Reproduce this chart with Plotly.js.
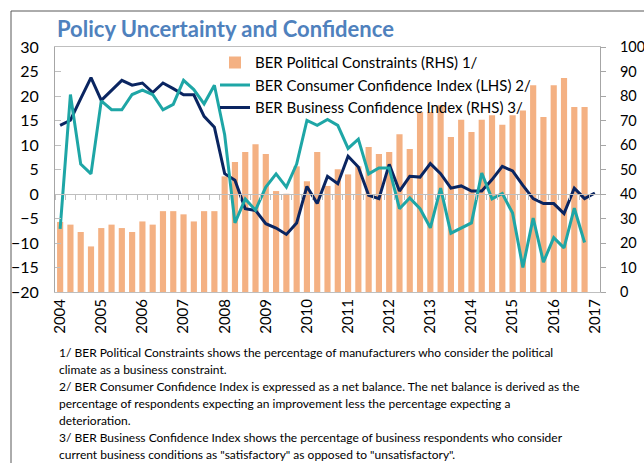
<!DOCTYPE html>
<html>
<head>
<meta charset="utf-8">
<script src="https://cdn.plot.ly/plotly-3.0.1.min.js"></script>
<style>html,body{margin:0;padding:0;background:#fff;}#chart{width:644px;height:463px;}</style>
</head>
<body>
<div id="chart"></div>
<script>
const quarters = ['2004Q1','2004Q2','2004Q3','2004Q4','2005Q1','2005Q2','2005Q3','2005Q4',
  '2006Q1','2006Q2','2006Q3','2006Q4','2007Q1','2007Q2','2007Q3','2007Q4',
  '2008Q1','2008Q2','2008Q3','2008Q4','2009Q1','2009Q2','2009Q3','2009Q4',
  '2010Q1','2010Q2','2010Q3','2010Q4','2011Q1','2011Q2','2011Q3','2011Q4',
  '2012Q1','2012Q2','2012Q3','2012Q4','2013Q1','2013Q2','2013Q3','2013Q4',
  '2014Q1','2014Q2','2014Q3','2014Q4','2015Q1','2015Q2','2015Q3','2015Q4',
  '2016Q1','2016Q2','2016Q3','2016Q4','2017Q1'];
const yearTickQuarters = ['2004Q1','2005Q1','2006Q1','2007Q1','2008Q1','2009Q1','2010Q1','2011Q1','2012Q1','2013Q1','2014Q1','2015Q1','2016Q1','2017Q1'];
const yearLabels = ['2004','2005','2006','2007','2008','2009','2010','2011','2012','2013','2014','2015','2016','2017'];

const politicalConstraints = [28.6,27.5,24.5,18.6,26.1,27.5,26.1,24.5,28.8,27.5,
  33,33,31.7,28.8,33,33,47.2,53.1,57.1,60.3,
  56.3,41.2,40.1,51.3,45.2,57.1,43.3,50.1,48.0,51.3,
  59.2,56.3,57.1,64.4,58.4,73.5,73.5,76.2,63.3,70.3,
  65.3,70.3,72.1,68.3,72.1,74.1,84.4,71.4,84.4,87.3,75.5,75.5];
const consumerConfidence = [-7.1,20.3,6.1,4.1,19.0,17.2,17.2,20.3,21.2,20.3,
  17.2,18.3,23.2,21.3,18.4,22.2,12.1,-5.9,-1.0,-3.3,
  1.4,4.1,1.4,6.1,15.0,14.0,15.2,14.0,9.3,11.2,
  4.1,5.3,5.3,-3.0,-0.8,-3.0,-6.9,1.2,-8.0,-6.9,
  -5.9,4.3,-1.0,0.1,-3.9,-15.0,-4.9,-13.9,-8.9,-11.0,-2.9,-9.9];
const businessConfidence = [68.0,70.1,78.9,87.5,78.2,82.3,86.4,84.4,85.3,81.4,
  85.3,83.0,80.5,80.5,71.7,67.3,48.3,45.6,34.0,33.3,
  27.9,26.1,23.5,28.2,43.1,36.1,47.2,44.2,55.4,51.0,
  39.5,38.1,52.1,41.2,47.2,46.9,52.4,48.3,42.4,43.3,
  41.2,41.2,45.9,51.3,49.4,43.5,38.1,36.1,36.1,32.0,42.4,38.1,40.4];

const seriesNames = ['BER Political Constraints (RHS) 1/','BER Consumer Confidence Index (LHS) 2/','BER Business Confidence Index (RHS) 3/'];
const leftTicks = [-20,-15,-10,-5,0,5,10,15,20,25,30];
const rightTicks = [0,10,20,30,40,50,60,70,80,90,100];
const footnotes = [
  '1/ BER Political Constraints shows the percentage of manufacturers who consider the political',
  'climate as a business constraint.',
  '2/ BER Consumer Confidence Index is expressed as a net balance. The net balance is derived as the',
  'percentage of respondents expecting an improvement less the percentage expecting a',
  'deterioration.',
  '3/ BER Business Confidence Index shows the percentage of business respondents who consider',
  'current business conditions as "satisfactory" as opposed to "unsatisfactory".'
];

const FONT = 'Lato, "Open Sans", sans-serif';
const W = 644, H = 463;
const PL = 55, PR = 600, PT = 46.7, PB = 291.7;
const px2x = p => (p - PL) / (PR - PL);
const py2y = p => (PB - p) / (PB - PT);

const traces = [
  {type:'bar', name: seriesNames[0], x: quarters.slice(0, politicalConstraints.length), y: politicalConstraints,
   xaxis:'x', yaxis:'y', marker:{color:'#f4b183'}},
  {type:'scatter', mode:'lines', name: seriesNames[1], x: quarters.slice(0, consumerConfidence.length), y: consumerConfidence,
   xaxis:'x2', yaxis:'y2', line:{color:'#1ea6a6', width:3}},
  {type:'scatter', mode:'lines', name: seriesNames[2], x: quarters, y: businessConfidence,
   xaxis:'x', yaxis:'y3', line:{color:'#0a2561', width:3}}
];

const annotations = footnotes.map((t, k) => ({
  text: t, xref:'paper', yref:'paper', x: px2x(57), y: py2y(352.5 + k*17),
  xanchor:'left', yanchor:'middle', showarrow:false, align:'left',
  font:{family:FONT, size:12, color:'#000'}
}));

const shapes = [
  {type:'line', xref:'paper', yref:'paper', x0:px2x(11), x1:px2x(11), y0:py2y(10.7), y1:py2y(470), line:{color:'#595959', width:1}},
  {type:'line', xref:'paper', yref:'paper', x0:px2x(11), x1:px2x(660), y0:py2y(10.7), y1:py2y(10.7), line:{color:'#595959', width:1}}
];

const layout = {
  width: W, height: H,
  margin: {l: PL, r: W - PR, t: PT, b: H - PB, pad: 0},
  paper_bgcolor: '#fff', plot_bgcolor: '#fff',
  showlegend: true,
  title: {text: '<b>Policy Uncertainty and Confidence</b>', x: 57/W, xref:'container', xanchor:'left',
          y: 1 - 29/H, yref:'container', yanchor:'middle',
          font:{family:FONT, size:22, color:'#4f81bd'}},
  bargap: 0.4,
  xaxis: {type:'category', categoryorder:'array', categoryarray: quarters, range:[-0.5, 52.5],
          tickmode:'array', tickvals: yearTickQuarters, ticktext: yearLabels, tickangle:-90,
          ticks:'', showgrid:false, zeroline:false, showline:true, mirror:true, linecolor:'#bfbfbf', linewidth:1,
          tickfont:{family:FONT, size:15, color:'#000'}, fixedrange:true},
  xaxis2: {type:'category', categoryorder:'array', categoryarray: quarters, range:[-0.5, 52.5],
           overlaying:'x', anchor:'free', position: 0.4, side:'bottom',
           tickmode:'linear', tick0:0, dtick:1, tickson:'boundaries', ticks:'outside', ticklen:5, tickcolor:'#bfbfbf',
           showticklabels:false, showgrid:false, zeroline:false, showline:true, linecolor:'#bfbfbf', linewidth:1},
  yaxis: {range:[0,100], side:'right', tickvals: rightTicks, ticks:'outside', ticklen:5, tickcolor:'#a6a6a6',
          showline:true, linecolor:'#a6a6a6', showgrid:false, zeroline:false, ticklabelstandoff:11,
          tickfont:{family:FONT, size:14.5, color:'#000'}},
  yaxis2: {range:[-20,30], side:'left', overlaying:'y', anchor:'x', tickvals: leftTicks, ticks:'inside', ticklen:6, tickcolor:'#bfbfbf',
           showline:true, linecolor:'#a6a6a6', showgrid:false, zeroline:false, ticklabelstandoff:12,
           tickfont:{family:FONT, size:16, color:'#000'}},
  yaxis3: {range:[0,100], overlaying:'y', visible:false},
  legend: {x: px2x(215), y: py2y(46), xanchor:'left', yanchor:'top', bgcolor:'rgba(0,0,0,0)',
           font:{family:FONT, size:15, color:'#000'}, itemwidth:30, tracegroupgap:0},
  annotations: annotations,
  shapes: shapes
};

Plotly.newPlot('chart', traces, layout, {displayModeBar:false, staticPlot:true});
</script>
</body>
</html>
